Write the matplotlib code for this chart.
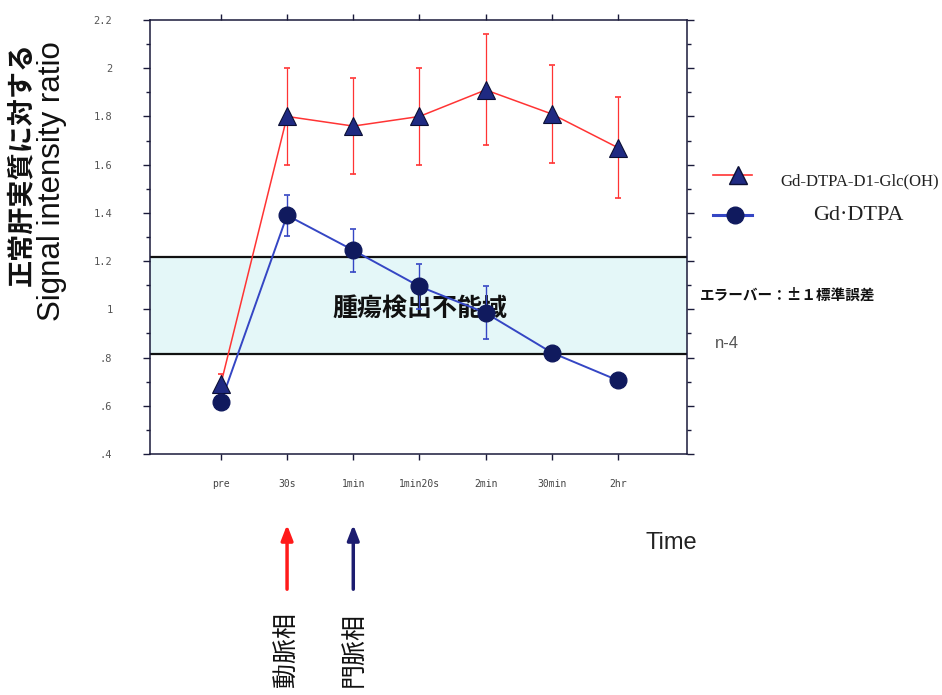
import numpy as np
from matplotlib import pyplot as plt
from matplotlib import transforms
from matplotlib.lines import Line2D
from matplotlib.patches import Rectangle
from matplotlib.ticker import MultipleLocator, FixedLocator, FixedFormatter

plt.rcParams['font.family'] = ['Noto Sans CJK JP', 'DejaVu Sans']

timepoints = ["pre", "30s", "1min", "1min20s", "2min", "30min", "2hr"]
glc_mean = [0.69, 1.80, 1.76, 1.80, 1.91, 1.81, 1.67]
glc_err = [0.04, 0.20, 0.20, 0.20, 0.23, 0.205, 0.21]
dtpa_mean = [0.615, 1.39, 1.245, 1.095, 0.985, 0.82, 0.705]
dtpa_err = [0.01, 0.085, 0.09, 0.095, 0.11, 0.01, 0.01]

# band where tumour cannot be detected
band_low = 0.815
band_high = 1.215

y_ticks = [0.4, 0.6, 0.8, 1.0, 1.2, 1.4, 1.6, 1.8, 2.0, 2.2]
y_tick_labels = [".4", ".6", ".8", "1", "1.2", "1.4", "1.6", "1.8", "2", "2.2"]

red = '#ff3434'
blue = '#3546c4'
navy_tri = '#1f2a82'
navy_dot = '#101a5e'

fig = plt.figure(figsize=(9.42, 6.95), dpi=100)
ax = fig.add_axes([150/942, 1 - 454/695, (687 - 150)/942, (454 - 20)/695])

x = np.arange(len(timepoints))

# shaded band
ax.add_patch(Rectangle((-1.07, band_low), 8.2, band_high - band_low,
                       facecolor='#e4f7f8', edgecolor='none', zorder=0))
ax.axhline(band_low, color='#111111', lw=1.6, zorder=1)
ax.axhline(band_high, color='#111111', lw=1.6, zorder=1)
ax.text(3.0, 1.0, '腫瘍検出不能域', fontsize=18, fontweight='bold',
        ha='center', va='center', color='#111111', zorder=2)

# Gd-DTPA-D1-Glc(OH)
ax.errorbar(x, glc_mean, yerr=glc_err, color=red, lw=1.1, elinewidth=0.9,
            capsize=2.5, capthick=1.2, zorder=3)
ax.plot(x, glc_mean, linestyle='none', marker='^', markersize=13,
        markerfacecolor=navy_tri, markeredgecolor='#0b0f35', markeredgewidth=0.8, zorder=5)

# Gd-DTPA
ax.errorbar(x, dtpa_mean, yerr=dtpa_err, color=blue, lw=1.4, elinewidth=1.0,
            capsize=2.5, capthick=1.2, zorder=4)
ax.plot(x, dtpa_mean, linestyle='none', marker='o', markersize=12,
        markerfacecolor=navy_dot, markeredgecolor=navy_dot, zorder=6)

ax.set_xlim(-1.07, 7.04)
ax.set_ylim(0.4, 2.2)

ax.yaxis.set_major_locator(FixedLocator(y_ticks))
ax.yaxis.set_major_formatter(FixedFormatter(y_tick_labels))
ax.yaxis.set_minor_locator(MultipleLocator(0.1))
ax.set_xticks(x)
ax.set_xticklabels(timepoints)

ax.tick_params(axis='both', which='both', direction='out', colors='#1a1a3a',
               top=True, right=True, width=1.0)
ax.tick_params(axis='y', which='major', length=5, pad=22, labelsize=7.5,
               labelcolor='#555555')
ax.tick_params(axis='y', which='minor', length=3)
ax.tick_params(axis='x', which='major', length=4, pad=14, labelsize=7,
               labelcolor='#444444')
for lab in ax.get_xticklabels() + ax.get_yticklabels():
    lab.set_family('DejaVu Sans Mono')
for sp in ax.spines.values():
    sp.set_color('#1a1a3a')
    sp.set_linewidth(1.1)

# axis titles
fig.text(21/942, 1 - 164/695, '正常肝実質に対する', rotation=90, fontsize=19.5,
         fontweight='bold', ha='center', va='center', color='#111111')
fig.text(52/942, 1 - 181/695, 'Signal intensity ratio', rotation=90, fontsize=22.5,
         family='Liberation Sans', ha='center', va='center', color='#111111')
fig.text(671/942, 1 - 543/695, 'Time', fontsize=17, family='Liberation Sans',
         ha='center', va='center', color='#222222')

# legend drawn by hand
fig.add_artist(Line2D([713/942, 752/942], [1 - 175/695, 1 - 175/695], color=red, lw=1.2))
fig.add_artist(Line2D([738/942], [1 - 175/695], marker='^', markersize=13,
                      markerfacecolor=navy_tri, markeredgecolor='#0b0f35'))
fig.text(780/942, 1 - 181/695, 'Gd-DTPA-D1-Glc(OH)', fontsize=12,
         family='Liberation Serif', ha='left', va='center', color='#222222')
fig.add_artist(Line2D([713/942, 752/942], [1 - 215/695, 1 - 215/695], color=blue, lw=2.2))
fig.add_artist(Line2D([735/942], [1 - 215/695], marker='o', markersize=12,
                      markerfacecolor=navy_dot, markeredgecolor=navy_dot))
fig.text(813/942, 1 - 215/695, 'Gd·DTPA', fontsize=16,
         family='Liberation Serif', ha='left', va='center', color='#222222')

fig.text(700/942, 1 - 295/695, 'エラーバー：±１標準誤差', fontsize=10.5,
         fontweight='bold', ha='left', va='center', color='#111111')
fig.text(715/942, 1 - 343/695, 'n-4', fontsize=12, family='Liberation Sans',
         ha='left', va='center', color='#555555')

# arrows marking the arterial / portal phases
arrow_style = '-|>,head_length=0.9,head_width=0.35'
ax.annotate('', xy=(1, 1 - 522/695), xytext=(1, 1 - 592/695),
            xycoords=('data', 'figure fraction'), textcoords=('data', 'figure fraction'),
            arrowprops=dict(arrowstyle=arrow_style, color='#ff1a1a', lw=2.5),
            annotation_clip=False)
ax.annotate('', xy=(2, 1 - 522/695), xytext=(2, 1 - 592/695),
            xycoords=('data', 'figure fraction'), textcoords=('data', 'figure fraction'),
            arrowprops=dict(arrowstyle=arrow_style, color='#1c1c70', lw=2.5),
            annotation_clip=False)

trans = transforms.blended_transform_factory(ax.transData, fig.transFigure)
ax.text(1, 1 - 612/695, '動脈相', transform=trans, rotation=90, fontsize=18,
        ha='center', va='top', color='#111111', clip_on=False)
ax.text(2, 1 - 612/695, '門脈相', transform=trans, rotation=90, fontsize=18,
        ha='center', va='top', color='#111111', clip_on=False)

fig.savefig('out.png', dpi=100)
